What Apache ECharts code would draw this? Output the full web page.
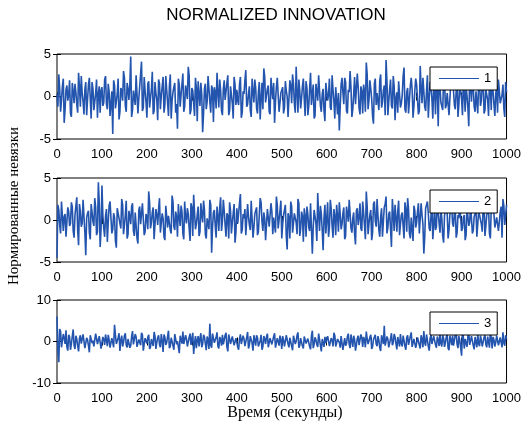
<!DOCTYPE html>
<html><head><meta charset="utf-8">
<script src="https://cdn.jsdelivr.net/npm/echarts@6/dist/echarts.min.js"></script>
<style>html,body{margin:0;padding:0;background:#fff}#c{width:524px;height:430px}</style>
</head><body><div id="c"></div>
<script>
var xTicks = [0,100,200,300,400,500,600,700,800,900,1000];
var seriesNames = ['1','2','3'];
var yRanges = [[-5,5,5],[-5,5,5],[-10,10,10]];
// samples at t = 0,4,8,...,1000
var innov1 = [
0.2,2.6,-1.8,1.2,-3.1,0.8,-0.5,1.9,-2.4,0.6,
1.5,-0.9,2.8,-1.2,0.4,-2.1,1.7,-0.3,2.2,-2.6,
0.9,-1.4,2.0,0.3,-1.9,1.1,-0.7,2.4,-1.5,0.5,
-2.2,-4.4,1.3,-0.6,2.1,-1.8,0.7,3.0,-1.1,1.6,
-0.4,4.7,-1.6,0.9,2.5,-2.0,1.2,4.1,-1.3,0.6,
-2.5,1.8,-0.2,2.9,-1.7,0.4,-2.8,1.5,0.1,2.3,
-1.0,0.8,-2.3,2.6,-0.5,1.1,-1.9,-3.8,1.4,0.2,
2.7,-1.2,0.6,3.5,-2.1,1.0,-0.8,2.2,-2.9,0.3,
1.6,-4.2,0.9,-1.5,2.4,-0.6,1.3,-3.0,0.5,2.8,
-1.3,0.7,-2.2,1.9,-0.4,2.5,-1.7,0.2,-2.6,1.4,
0.8,-1.0,2.3,-1.9,0.3,3.1,-0.9,1.2,-2.4,0.6,
2.0,-1.4,0.5,-2.7,1.6,3.3,-0.7,0.9,-1.8,2.2,
-0.3,-3.1,1.1,2.4,-1.6,0.4,-2.0,1.8,0.0,-2.5,
1.3,2.6,-0.8,3.5,-1.9,0.7,-0.2,2.1,-2.3,1.0,
-1.1,2.8,0.3,-2.6,1.5,-0.5,2.3,-1.8,0.9,-2.9,
1.7,0.2,-1.3,2.5,-0.6,1.1,-2.1,-4.0,1.4,0.5,
2.2,-1.7,0.8,3.0,-2.4,0.3,-0.9,2.7,-1.4,1.2,
-2.0,0.6,4.0,-1.5,1.9,-0.3,-3.2,2.1,0.4,-1.6,
2.6,-0.7,1.3,4.3,-2.2,0.9,-1.1,2.4,-2.8,0.5,
1.8,-1.3,0.2,3.4,-1.9,1.0,-0.4,2.2,-2.5,0.7,
1.4,-2.1,3.6,-0.8,0.6,-1.7,2.5,-0.2,1.1,-2.6,
0.9,2.3,-3.5,1.2,-0.6,2.0,-1.4,0.4,-2.2,1.7,
2.9,-1.0,0.7,-2.4,1.5,-0.3,2.6,-1.8,0.1,-3.5,
1.3,2.2,-1.2,0.6,-2.0,1.8,-0.5,2.4,-1.6,0.9,
-2.3,1.1,2.7,-0.9,0.3,-1.9,2.0,-0.6,1.4,-2.4,
0.5];
// samples at t = 2,6,10,...,998
var innov1Mid = [
-1.2,0.9,-0.4,2.1,-1.5,1.3,0.2,-2.0,1.6,-0.8,
0.5,-1.9,1.1,2.4,-0.6,0.8,-2.2,1.4,-0.3,1.7,
-1.6,0.4,-2.5,1.2,0.7,-1.1,2.0,-0.9,1.5,-2.3,
0.6,1.9,-1.4,0.3,-2.7,1.0,-0.5,2.2,-1.8,0.9,
1.3,-2.4,0.7,-1.0,2.6,-0.2,1.1,-1.7,2.3,-0.6,
1.5,-1.3,0.8,-2.1,1.7,-0.4,2.0,-1.5,0.3,-1.9,
2.4,-0.7,1.2,-2.6,0.5,1.6,-0.9,2.1,-1.2,0.4,
-1.8,1.3,-0.3,2.5,-1.6,0.7,-2.3,1.0,1.8,-1.1,
0.2,-2.0,1.5,-0.6,2.2,-1.9,0.8,1.1,-1.4,0.5,
2.0,-1.7,0.9,-0.4,1.6,-2.2,1.2,-0.8,2.3,-1.0,
-0.5,1.4,-2.5,0.6,1.9,-1.2,0.3,-1.6,2.1,-0.7,
1.0,-2.0,1.7,-0.2,-1.5,2.4,-0.9,1.3,-2.1,0.8,
1.6,-0.6,2.2,-1.8,0.4,1.1,-1.3,0.7,-2.4,1.9,
-0.8,1.5,-1.9,0.5,2.0,-1.4,1.2,-0.3,1.8,-2.2,
0.9,-1.0,1.4,-2.3,0.6,2.5,-1.1,0.3,-1.7,1.6,
-0.5,2.1,-1.6,0.8,-2.6,1.3,0.4,-1.2,2.2,-0.9,
1.7,-2.0,0.5,1.0,-1.5,2.3,-0.7,1.1,-2.1,0.6,
1.4,-1.8,2.6,-0.4,0.9,-2.3,1.5,-1.0,0.3,1.9,
-1.3,0.7,-2.2,1.8,-0.6,2.0,-1.4,1.2,-0.2,-1.9,
1.6,-0.8,2.4,-1.5,0.5,-2.0,1.3,0.8,-1.1,2.1,
-0.4,-1.7,1.0,2.2,-1.2,0.6,-2.5,1.7,-0.3,1.4,
-2.1,0.9,1.8,-0.7,-1.6,2.3,-1.0,0.4,-2.4,1.1,
0.7,-1.5,2.0,-0.9,1.6,-2.2,0.3,1.2,-1.3,2.5,
-0.6,1.0,-1.8,0.5,2.1,-1.1,1.4,-2.0,0.8,-0.4,
1.9,-1.6,0.6,-2.3,1.3,2.0,-0.8,0.2,-1.4,1.7];
var innov2 = [
-4.5,1.2,-1.6,2.3,0.4,-2.0,1.5,-0.7,2.1,-1.3,
0.6,2.7,-3.0,1.0,-0.4,2.4,-4.2,0.8,-1.5,1.9,
-0.2,2.6,-1.8,4.5,-3.2,4.1,-1.0,0.5,-2.6,1.7,
2.3,-1.1,0.3,-3.3,1.4,0.0,2.5,-1.7,0.6,-2.2,
1.1,-0.5,2.0,-1.9,0.8,-2.8,1.6,-0.3,2.2,-1.4,
0.4,3.4,-1.0,0.9,-2.3,1.3,-0.6,2.6,-1.5,0.2,
-2.4,1.8,0.5,-1.2,2.9,-0.8,1.0,-2.0,0.3,1.7,
-1.6,2.2,-0.4,0.7,-2.5,1.5,3.0,-1.1,0.6,-1.9,
2.0,-0.3,1.2,-2.2,0.4,2.4,-3.9,0.9,-0.7,1.6,
-1.3,2.7,-0.1,1.1,-2.0,0.5,2.1,-1.6,0.8,-2.7,
1.4,-0.5,3.1,-1.2,0.2,-1.8,1.9,-0.6,2.3,-2.1,
0.7,1.5,-1.4,2.6,-0.2,0.9,-2.4,1.3,-0.8,2.0,
-1.7,0.4,2.8,-1.0,1.1,-2.2,0.6,1.8,-3.5,0.3,
2.2,-1.5,0.8,-0.3,2.5,-1.9,1.0,-2.6,0.5,1.6,
-0.9,2.0,-4.0,1.2,-0.4,3.2,-1.3,0.7,-3.6,1.8,
0.1,-2.0,2.4,-0.7,1.3,-1.8,0.5,2.1,-1.1,0.8,
-2.3,1.6,-0.2,2.6,-1.5,0.9,-2.9,1.4,0.3,-1.0,
2.2,-0.6,3.4,-1.7,0.6,-2.4,1.9,-0.1,2.5,-1.2,
0.4,-2.0,1.5,2.8,-0.9,1.0,-3.2,0.7,1.8,-1.4,
2.3,-0.5,0.9,-2.2,1.2,2.6,-1.6,0.3,-2.5,1.1,
-0.3,2.0,-1.8,0.6,-4.0,1.4,2.2,-1.0,0.5,-2.3,
1.7,-0.8,2.4,-1.5,0.2,-2.7,1.3,0.8,-1.2,2.1,
-0.4,1.0,-2.1,0.6,1.9,-1.3,0.3,-2.4,1.5,-0.7,
2.0,-1.6,0.4,1.2,-2.0,0.9,-0.5,1.7,-1.9,0.6,
1.3,-2.2,0.8,2.1,-1.1,0.2,-1.5,1.6,2.5,-0.6,
1.8];
var innov2Mid = [
1.8,-0.6,2.2,-1.3,0.7,-1.9,1.0,-0.4,1.6,-2.1,
0.5,-1.2,1.9,-0.8,2.4,-1.5,0.3,1.1,-2.3,0.9,
-0.7,1.5,-1.4,2.0,-1.1,0.6,-2.0,1.3,-0.2,2.2,
-1.6,0.8,-2.5,1.4,0.2,-1.0,1.8,-0.6,2.3,-1.7,
0.4,1.6,-1.3,0.9,-2.2,1.2,-0.5,2.0,-1.8,0.7,
-1.1,2.1,-0.3,1.5,-2.4,0.6,1.3,-1.5,0.8,-2.0,
1.7,-0.9,0.5,-1.6,2.2,-1.2,0.4,1.9,-0.7,1.0,
-2.3,0.3,1.4,-1.0,2.0,-1.9,0.9,-0.5,1.6,-1.4,
0.6,2.3,-1.7,0.2,-1.1,1.8,-0.8,1.2,-2.1,0.5,
1.5,-1.3,2.4,-0.6,0.8,-2.2,1.1,-0.3,1.9,-1.5,
-0.4,2.0,-1.6,0.7,1.3,-2.0,0.4,-1.2,2.2,-0.9,
1.1,-1.8,0.6,2.1,-1.3,0.2,-2.4,1.5,-0.7,1.0,
0.3,-1.5,1.8,-1.0,2.3,-0.5,1.2,-1.9,0.8,-2.2,
1.6,-0.4,0.9,-1.7,2.0,-1.1,0.5,1.4,-2.0,0.7,
-1.3,2.2,-0.8,1.0,-2.5,0.6,1.7,-1.2,0.3,-1.6,
2.1,-0.9,1.3,-2.1,0.4,1.8,-1.4,0.7,-0.5,1.5,
-1.9,0.8,2.4,-1.0,0.2,-1.7,1.1,-0.6,2.0,-1.3,
0.9,-2.3,1.6,-0.4,1.2,-1.5,2.2,-0.8,0.5,-2.0,
1.4,-0.2,1.9,-1.6,0.7,-1.1,2.5,-1.3,0.3,1.0,
-1.8,0.6,-0.7,2.1,-1.4,1.3,-2.2,0.4,1.7,-0.9,
1.0,-1.6,2.0,-0.5,-2.1,1.2,0.8,-1.3,1.9,-0.6,
-1.2,2.2,-0.4,1.4,-1.9,0.5,1.1,-2.2,0.7,1.6,
-0.8,1.3,-1.5,0.2,2.0,-1.0,0.6,-1.8,1.5,-0.3,
1.8,-1.2,0.4,-2.0,1.1,0.9,-1.4,2.1,-0.7,0.5,
-1.6,1.4,2.3,-0.9,0.3,-1.3,1.0,-2.1,1.7,-0.5];
var innov3 = [
6.0,-5.0,2.4,-1.6,0.8,2.7,-2.2,1.1,-0.5,2.9,
-1.8,0.6,-2.4,1.5,-0.3,1.9,-1.2,0.4,-2.6,1.3,
0.2,-1.5,2.2,-0.8,1.0,-2.0,0.5,1.7,-1.1,0.3,
-1.9,1.2,4.0,-0.6,0.9,-2.3,1.4,-0.2,2.0,-1.4,
0.7,-1.0,2.5,-0.4,1.1,-1.7,0.3,2.1,-2.2,0.8,
-0.5,1.6,-1.3,0.2,2.3,-1.8,0.9,-0.7,1.8,-2.5,
1.0,-0.3,2.6,-1.1,0.5,-2.0,1.5,0.1,-2.8,1.2,
2.4,-0.9,0.6,-1.6,1.9,-0.4,-3.0,1.3,0.3,-1.2,
2.0,-0.6,1.1,-2.1,0.4,4.3,-1.5,0.8,-0.2,2.2,
-1.7,0.5,1.6,-1.0,2.1,-2.4,0.7,-0.5,1.4,-1.3,
0.9,-2.0,1.7,-0.3,0.6,-1.5,2.3,-0.8,1.0,-2.2,
0.4,1.5,-1.2,0.2,-2.0,1.3,-0.6,1.9,-1.6,0.8,
-0.4,2.0,-1.1,0.5,1.4,-1.8,0.3,-0.9,1.7,-1.4,
0.6,-2.1,1.2,0.0,2.2,-1.0,0.7,-1.7,1.5,-0.3,
0.9,-1.9,2.6,-0.7,0.4,-1.3,1.8,-2.4,0.5,1.1,
-0.8,1.6,-1.5,0.3,2.1,-1.2,0.6,-0.2,1.3,-2.0,
0.8,-0.5,1.9,-1.6,0.2,1.4,-2.2,0.7,-0.9,1.7,
-1.3,0.4,2.4,-0.6,1.0,-1.8,0.5,1.6,-1.1,0.3,
-2.3,1.2,3.8,-0.8,0.6,-1.4,2.0,-0.3,1.1,-1.9,
0.7,1.8,-1.2,0.2,-2.0,1.5,-0.5,2.2,-1.6,0.9,
-0.4,1.3,-1.7,0.6,2.5,-1.0,0.3,-2.2,1.6,-0.7,
1.1,-1.5,0.4,2.0,-1.2,0.8,-0.3,1.7,-2.1,0.5,
1.4,-0.9,2.3,-1.6,0.2,-3.4,1.0,0.6,-1.3,2.1,
-0.6,1.2,-1.9,0.7,1.8,-1.1,0.3,-0.8,1.5,-1.4,
0.9,2.4,-1.7,0.4,-0.2,1.6,-1.3,0.8,2.2,-1.0,
0.5];
var innov3Mid = [
-2.2,3.0,-1.4,1.8,-0.6,-1.3,1.6,-2.0,1.2,-0.9,
1.4,-1.1,0.8,-0.5,1.7,-1.6,0.9,-1.0,1.5,-0.4,
-1.2,1.9,-0.6,1.3,-1.7,1.1,-0.8,0.4,1.6,-1.5,
0.8,-1.4,1.5,-1.0,2.0,0.3,-1.2,1.4,-0.9,0.6,
-1.5,1.2,-0.7,1.8,-1.3,0.5,-0.9,1.6,-0.6,1.1,
1.0,-1.8,0.6,-1.1,1.3,-0.2,1.5,-1.4,0.3,1.7,
-0.8,1.2,-1.6,0.9,-1.0,1.8,-0.7,-1.3,1.4,-0.5,
-0.6,1.5,-1.2,1.0,-0.8,2.1,-0.4,-1.6,1.3,0.7,
-1.4,1.6,-0.5,1.2,-1.8,-0.9,1.9,-0.3,1.0,-1.2,
1.1,-1.0,-0.7,1.5,-1.3,1.7,-0.6,1.2,-0.9,0.8,
-1.3,0.7,-0.6,1.4,-1.1,1.0,-1.7,1.3,-0.4,1.5,
-1.0,0.9,-0.5,1.6,-1.2,0.6,1.1,-1.4,0.8,-0.7,
1.2,-1.5,0.8,-1.0,0.4,1.3,-1.2,1.5,-0.6,0.9,
-1.1,1.4,-0.6,1.5,-1.5,0.8,-1.1,1.2,-0.5,0.7,
-1.2,1.3,-1.6,1.0,-0.7,1.9,-1.0,0.6,-1.3,-0.4,
1.3,-1.1,0.8,-1.2,1.4,-0.4,1.0,-1.5,0.9,-0.6,
-1.0,1.2,-0.7,1.7,-1.3,0.5,-0.8,1.4,-1.1,0.9,
1.1,-1.4,0.6,-1.0,1.6,-1.2,0.9,-0.6,1.3,-1.5,
1.5,-0.6,-1.0,1.2,-1.4,0.7,-0.9,1.8,-0.5,1.1,
-1.2,-0.5,1.4,-1.1,1.0,-0.8,1.3,-1.3,0.6,-1.5,
1.0,-0.9,1.5,-1.4,-0.3,1.7,-1.2,0.8,-0.6,1.3,
-0.8,1.2,-1.1,-0.5,1.5,-1.3,1.1,-1.6,1.4,-0.9,
-1.0,1.6,-0.7,1.3,-1.4,2.6,-1.7,-0.4,1.2,-0.8,
1.3,-1.0,1.1,-1.4,-0.6,1.4,-1.2,1.0,-0.7,1.2,
-1.5,0.9,1.1,-1.2,1.4,-0.9,1.0,-1.4,-0.3,1.5];
var mainData = [innov1, innov2, innov3];
var midData = [innov1Mid, innov2Mid, innov3Mid];

var grids = [{top:54,height:85},{top:178,height:84},{top:300,height:83}];
var legendTops = [67,190,312];
var lineColor = '#2354ae';
var sans = 'Liberation Sans, Arial, sans-serif';
var serif = 'Liberation Serif, Times New Roman, serif';

var option = {animation:false, backgroundColor:'#fff', grid:[], xAxis:[], yAxis:[], series:[], legend:[],
  graphic:[
    {type:'text', x:276, y:15, style:{text:'NORMALIZED INNOVATION', font:'17px '+sans, fill:'#000', textAlign:'center', textVerticalAlign:'middle'}},
    {type:'text', x:285, y:413, style:{text:'Время (секунды)', font:'16px '+serif, fill:'#000', textAlign:'center', textVerticalAlign:'middle'}},
    {type:'text', x:14, y:206, rotation:Math.PI/2, style:{text:'Нормированные невязки', font:'15px '+serif, fill:'#000', textAlign:'center', textVerticalAlign:'middle'}}
  ]};

for (var g=0; g<3; g++){
  option.grid.push({left:57, right:14, top:grids[g].top, height:grids[g].height, show:true, borderColor:'#000', borderWidth:1, backgroundColor:'transparent'});
  var tickStyle = {show:true, inside:true, length:4, lineStyle:{color:'#000', width:1}};
  ['bottom','top'].forEach(function(pos){
    option.xAxis.push({type:'value', gridIndex:g, position:pos, min:xTicks[0], max:xTicks[xTicks.length-1], interval:100,
      axisLine:{show:false}, axisTick:tickStyle, splitLine:{show:false},
      axisLabel:{show:pos==='bottom', color:'#000', fontSize:13, fontFamily:sans, margin:9, formatter:function(v){return String(v);}}});
  });
  ['left','right'].forEach(function(pos){
    option.yAxis.push({type:'value', gridIndex:g, position:pos, min:yRanges[g][0], max:yRanges[g][1], interval:yRanges[g][2],
      axisLine:{show:false}, axisTick:tickStyle, splitLine:{show:false},
      axisLabel:{show:pos==='left', color:'#000', fontSize:13, fontFamily:sans, margin:6, formatter:function(v){return String(v);}}});
  });
  var a = mainData[g], b = midData[g], pts = [];
  for (var i=0;i<a.length;i++){
    pts.push([i*4, a[i]]);
    if (i < b.length) pts.push([i*4+2, b[i]]);
  }
  option.series.push({type:'line', name:seriesNames[g], xAxisIndex:g*2, yAxisIndex:g*2, data:pts, symbol:'none',
    showSymbol:false, sampling:null, large:false, progressive:0,
    lineStyle:{color:lineColor, width:1.6}, itemStyle:{color:lineColor}, z:1});
  option.legend.push({data:[{name:seriesNames[g], icon:'rect'}], left:430, top:legendTops[g], orient:'horizontal',
    padding:[4,6,4,9], itemWidth:40, itemHeight:1, itemGap:5, borderColor:'#000', borderWidth:1, borderRadius:0,
    backgroundColor:'#fff', textStyle:{color:'#000', fontSize:13, fontFamily:sans, lineHeight:15}, z:10});
}
var chart = echarts.init(document.getElementById('c'), null, {renderer:'canvas'});
chart.setOption(option);
</script></body></html>
